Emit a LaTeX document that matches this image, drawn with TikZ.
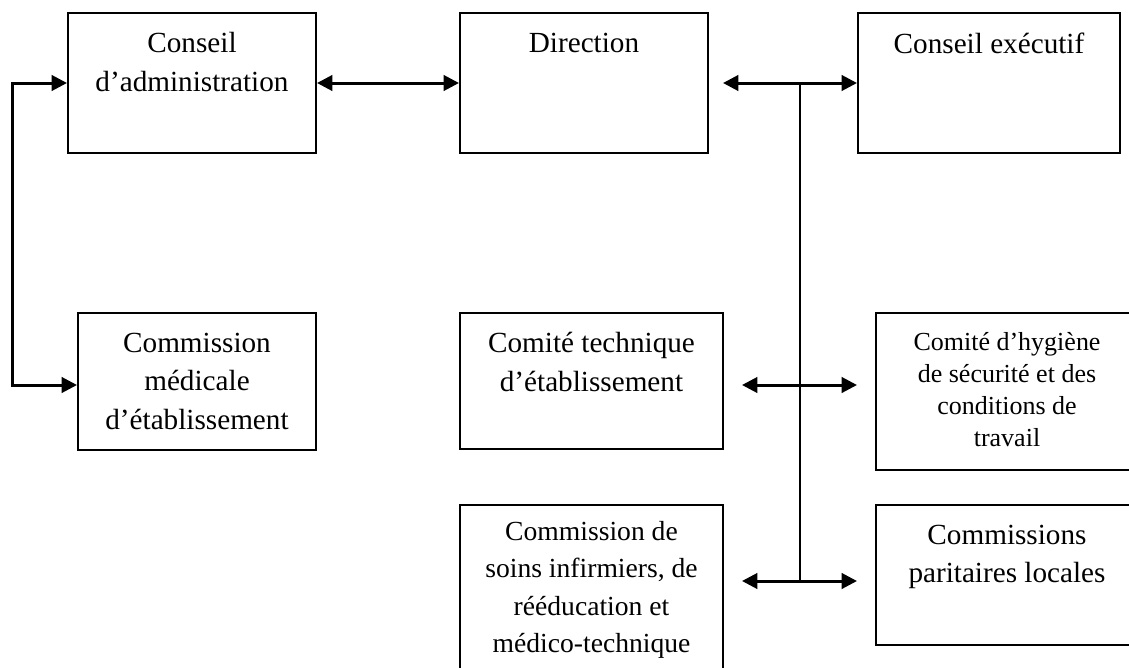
\documentclass[tikz,border=0pt]{standalone}
\usepackage{fontspec}
\setmainfont{Liberation Serif}
\usetikzlibrary{arrows.meta}

\begin{document}
\begin{tikzpicture}[x=0.75pt,y=-0.75pt,
			>={Triangle[length=11.5pt,width=11.5pt]},
			boite/.style={draw, line width=1.5pt, inner sep=0pt},
			texte/.style={anchor=north, inner sep=0pt, align=center},
			grand/.style={texte, yshift=-15.3pt, font=\fontsize{21.9}{29}\selectfont},
			petit/.style={texte, yshift=-15pt, font=\fontsize{19.5}{24}\selectfont},
			moyen/.style={texte, yshift=-12.5pt, font=\fontsize{20.7}{28.1}\selectfont},
			fleche/.style={<->, line width=2.25pt},
			tronc/.style={line width=1.5pt}]
			\useasboundingbox (0,0) rectangle (1129,668);
			\clip (0,0) rectangle (1129,668);
			\node[boite, minimum width=186pt, minimum height=105pt, label={[grand]north:{Conseil\\d’administration}}] (ca) at (192,83) {};
			\node[boite, minimum width=186pt, minimum height=105pt, label={[grand]north:{Direction}}] (dir) at (584,83) {};
			\node[boite, minimum width=196.5pt, minimum height=105pt, label={[grand]north:{Conseil exécutif}}] (ce) at (989,83) {};
			\node[boite, minimum width=178.5pt, minimum height=102.75pt, label={[grand]north:{Commission\\médicale\\d’établissement}}] (cme) at (197,381.5) {};
			\node[boite, minimum width=197.25pt, minimum height=102pt, label={[grand]north:{Comité technique\\d’établissement}}] (cte) at (591.5,381) {};
			\node[boite, minimum width=196.5pt, minimum height=117.75pt, label={[petit]north:{Comité d’hygiène\\de sécurité et des\\conditions de\\travail}}] (chsct) at (1007,391.5) {};
			\node[boite, minimum width=197.25pt, minimum height=131.25pt, label={[moyen]north:{Commission de\\soins infirmiers, de\\rééducation et\\médico-technique}}] (csi) at (591.5,592.5) {};
			\node[boite, minimum width=196.5pt, minimum height=105pt, label={[grand]north:{Commissions\\paritaires locales}}] (cpl) at (1007,575) {};
			\coordinate (coin) at (12,385);
			\coordinate (hub) at (800,83);
			\coordinate (pied) at (800,581);
			\coordinate (dirE) at (723,83);
			\coordinate (g2) at (742,385);
			\coordinate (d2) at (857,385);
			\coordinate (g3) at (742,581);
			\coordinate (d3) at (857,581);
			\draw[fleche] (ca.west) -| (coin) -- (cme.west |- coin);
			\draw[fleche] (ca.east) -- (dir.west);
			\draw[fleche] (dirE) -- (ce.west);
			\draw[tronc] (hub) -- (pied);
			\draw[fleche] (g2) -- (d2);
			\draw[fleche] (g3) -- (d3);
		\end{tikzpicture}
\end{document}
